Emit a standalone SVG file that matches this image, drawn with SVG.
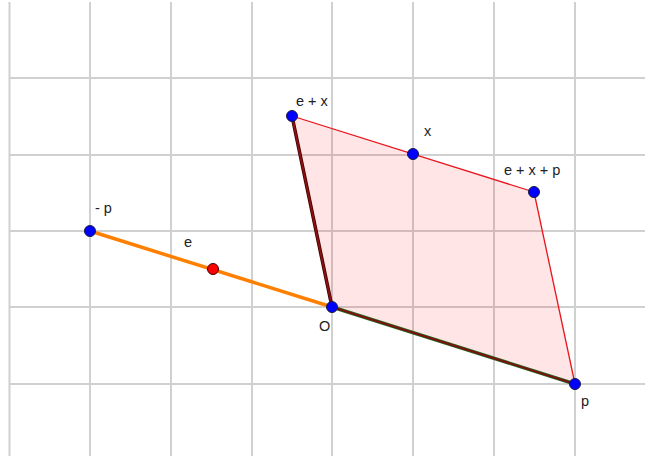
<svg xmlns="http://www.w3.org/2000/svg" width="645" height="459" viewBox="0 0 645 459">
<style>
.grid line{stroke:#d0d0d0;stroke-width:2}
.lbl{font-family:"Liberation Sans",Arial,sans-serif;font-size:14.5px;fill:#222}
.pt{fill:#0000ff;stroke:#1a1a40;stroke-width:1}
.ptr{fill:#ff0000;stroke:#400000;stroke-width:1}
</style>
<rect width="645" height="459" fill="#fff"/>
<g class="grid">
<line x1="9.5" y1="2" x2="9.5" y2="456"/>
<line x1="90" y1="2" x2="90" y2="456"/>
<line x1="171" y1="2" x2="171" y2="456"/>
<line x1="252" y1="2" x2="252" y2="456"/>
<line x1="332" y1="2" x2="332" y2="456"/>
<line x1="413" y1="2" x2="413" y2="456"/>
<line x1="494" y1="2" x2="494" y2="456"/>
<line x1="575" y1="2" x2="575" y2="456"/>
<line x1="9.5" y1="78" x2="645" y2="78"/>
<line x1="9.5" y1="155" x2="645" y2="155"/>
<line x1="9.5" y1="231" x2="645" y2="231"/>
<line x1="9.5" y1="307" x2="645" y2="307"/>
<line x1="9.5" y1="384" x2="645" y2="384"/>
</g>
<g id="parallelogram">
<polygon points="332,307 292,116 534,192 575,384" fill="#ff0000" fill-opacity="0.1" stroke="none"/>
</g>
<g id="connectors">
<line x1="292" y1="116" x2="534" y2="192" stroke="#e8141c" stroke-width="1.3"/>
<line x1="534" y1="192" x2="575" y2="384" stroke="#e8141c" stroke-width="1.3"/>
<line x1="90" y1="231" x2="332" y2="307" stroke="#ff8000" stroke-width="3.5"/>
<line x1="332" y1="307" x2="575" y2="384" stroke="#1f6f1f" stroke-width="3.5"/>
<line x1="332" y1="307" x2="575" y2="384" stroke="#7a1010" stroke-width="2"/>
<line x1="332" y1="307" x2="292" y2="116" stroke="#3a0000" stroke-width="3.5"/>
<line x1="332" y1="307" x2="292" y2="116" stroke="#8b1010" stroke-width="2"/>
</g>
<g id="node-minus-p"><circle class="pt" cx="90" cy="231" r="5.5"/><text class="lbl" x="95" y="213">- p</text></g>
<g id="node-e"><circle class="ptr" cx="213" cy="269" r="5.5"/><text class="lbl" x="184" y="247">e</text></g>
<g id="node-O"><circle class="pt" cx="332" cy="307" r="5.5"/><text class="lbl" x="319" y="331">O</text></g>
<g id="node-p"><circle class="pt" cx="575" cy="384" r="5.5"/><text class="lbl" x="581" y="406">p</text></g>
<g id="node-e-plus-x"><circle class="pt" cx="292" cy="116" r="5.5"/><text class="lbl" x="296" y="106">e + x</text></g>
<g id="node-x"><circle class="pt" cx="413" cy="154" r="5.5"/><text class="lbl" x="424" y="136">x</text></g>
<g id="node-e-x-p"><circle class="pt" cx="534" cy="192" r="5.5"/><text class="lbl" x="504" y="175">e + x + p</text></g>
</svg>
